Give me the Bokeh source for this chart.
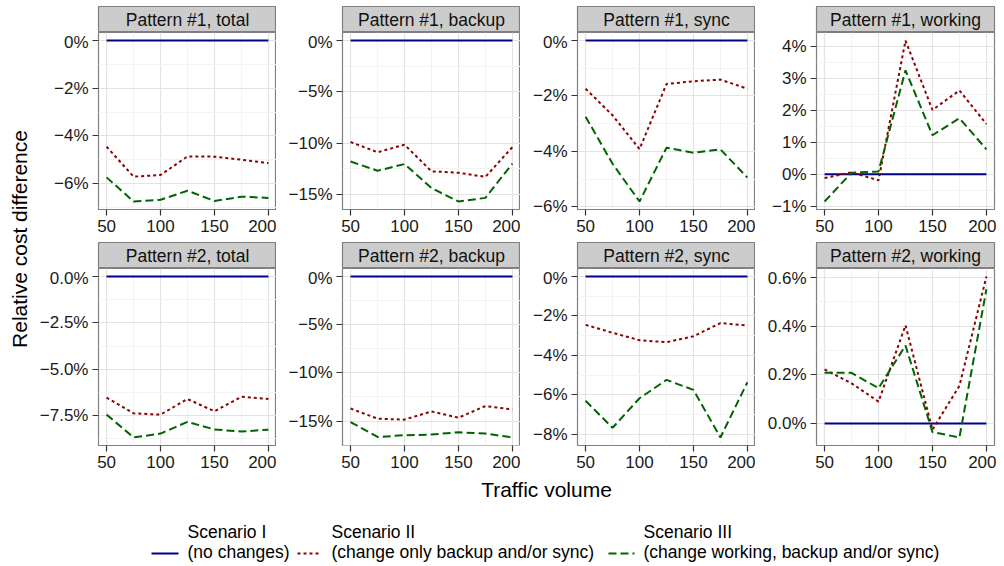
import math
from bokeh.plotting import figure
from bokeh.layouts import gridplot, row, column
from bokeh.models import Range1d, FixedTicker
from bokeh.core.properties import value
from bokeh.embed import file_html
from bokeh.resources import INLINE

# ---------------- data ----------------
traffic = [50, 75, 100, 125, 150, 175, 200]
x_ticks = [50, 100, 150, 200]
x_tick_labels = ["50", "100", "150", "200"]

facet_titles = ["Pattern #1, total", "Pattern #1, backup", "Pattern #1, sync", "Pattern #1, working",
                "Pattern #2, total", "Pattern #2, backup", "Pattern #2, sync", "Pattern #2, working"]

# Scenario I (no changes) is zero everywhere
scen1 = [0, 0, 0, 0, 0, 0, 0]

p1_total_s2 = [-4.45, -5.71, -5.64, -4.86, -4.87, -5.00, -5.14]
p1_total_s3 = [-5.74, -6.75, -6.68, -6.30, -6.73, -6.55, -6.60]
p1_backup_s2 = [-9.9, -10.9, -10.16, -12.76, -12.9, -13.3, -10.4]
p1_backup_s3 = [-11.8, -12.7, -12.05, -14.4, -15.7, -15.35, -12.0]
p1_sync_s2 = [-1.74, -2.70, -3.92, -1.57, -1.47, -1.41, -1.74]
p1_sync_s3 = [-2.75, -4.45, -5.81, -3.87, -4.05, -3.93, -4.95]
p1_working_s2 = [-0.12, 0.06, -0.19, 4.18, 2.01, 2.62, 1.57]
p1_working_s3 = [-0.85, 0.05, 0.09, 3.25, 1.22, 1.75, 0.78]
p2_total_s2 = [-6.52, -7.37, -7.44, -6.60, -7.26, -6.48, -6.60]
p2_total_s3 = [-7.44, -8.67, -8.46, -7.83, -8.24, -8.35, -8.25]
p2_backup_s2 = [-13.7, -14.75, -14.85, -14.0, -14.65, -13.44, -13.8]
p2_backup_s3 = [-15.1, -16.65, -16.47, -16.4, -16.16, -16.3, -16.7]
p2_sync_s2 = [-2.45, -2.85, -3.23, -3.33, -3.03, -2.36, -2.48]
p2_sync_s3 = [-6.30, -7.67, -6.17, -5.24, -5.75, -8.16, -5.36]
p2_working_s2 = [0.222, 0.165, 0.090, 0.403, -0.025, 0.155, 0.603]
p2_working_s3 = [0.208, 0.208, 0.145, 0.320, -0.035, -0.057, 0.551]

scen2 = [p1_total_s2, p1_backup_s2, p1_sync_s2, p1_working_s2,
         p2_total_s2, p2_backup_s2, p2_sync_s2, p2_working_s2]
scen3 = [p1_total_s3, p1_backup_s3, p1_sync_s3, p1_working_s3,
         p2_total_s3, p2_backup_s3, p2_sync_s3, p2_working_s3]

y_ticks = [[0, -2, -4, -6], [0, -5, -10, -15], [0, -2, -4, -6], [-1, 0, 1, 2, 3, 4],
           [0, -2.5, -5, -7.5], [0, -5, -10, -15], [0, -2, -4, -6, -8], [0, 0.2, 0.4, 0.6]]
y_tick_labels = [["0%", "\u22122%", "\u22124%", "\u22126%"],
                 ["0%", "\u22125%", "\u221210%", "\u221215%"],
                 ["0%", "\u22122%", "\u22124%", "\u22126%"],
                 ["\u22121%", "0%", "1%", "2%", "3%", "4%"],
                 ["0.0%", "\u22122.5%", "\u22125.0%", "\u22127.5%"],
                 ["0%", "\u22125%", "\u221210%", "\u221215%"],
                 ["0%", "\u22122%", "\u22124%", "\u22126%", "\u22128%"],
                 ["0.0%", "0.2%", "0.4%", "0.6%"]]

legend_line1 = ["Scenario I", "Scenario II", "Scenario III"]
legend_line2 = ["(no changes)", "(change only backup and/or sync)", "(change working, backup and/or sync)"]

x_title = "Traffic volume"
y_title = "Relative cost difference"

# ---------------- style ----------------
FONT = "Liberation Sans"
COLORS = ["#00008b", "#8b0000", "#006400"]
DASHES = ["solid", "3 3", "8 4"]
LW = 2
YLAB_W = 36
LEFT = [62, 66, 57, 61]
RIGHT = [0, 0, 0, 2]
FW, FH = 178, 177
STRIP_H = 26
TOP = 6
AX_B = 33
TICK_FS = "17px"


def minors(ticks):
    t = sorted(ticks)
    step = t[1] - t[0]
    return [t[0] - step / 2] + [(a + b) / 2 for a, b in zip(t[:-1], t[1:])] + [t[-1] + step / 2]


def style_axis(ax):
    ax.axis_line_color = None
    ax.major_tick_line_color = "#333333"
    ax.major_tick_line_width = 1.2
    ax.major_tick_out = 6
    ax.major_tick_in = 0
    ax.minor_tick_line_color = None
    ax.major_label_text_font = FONT
    ax.major_label_text_font_size = TICK_FS
    ax.major_label_text_color = "#1a1a1a"
    ax.major_label_standoff = 4


def make_strip(col, title, top):
    s = figure(frame_width=FW, frame_height=STRIP_H, x_range=Range1d(0, 1), y_range=Range1d(0, 1),
               x_axis_type=None, y_axis_type=None, output_backend="svg", toolbar_location=None,
               min_border=0, min_border_left=LEFT[col], min_border_right=RIGHT[col], min_border_top=top)
    s.background_fill_color = "#cccccc"
    s.border_fill_color = "white"
    s.outline_line_color = "#7f7f7f"
    s.outline_line_width = 1.2
    s.text(x=[0.5], y=[0.47], text=[title], text_align="center", text_baseline="middle",
           text_font=value(FONT), text_font_size="17.5px", text_color="#111111")
    return s


def make_panel(col, i):
    allv = scen1 + scen2[i] + scen3[i]
    lo, hi = min(allv), max(allv)
    pad = 0.05 * (hi - lo)
    xpad = 0.05 * (max(traffic) - min(traffic))
    p = figure(frame_width=FW, frame_height=FH,
               x_range=Range1d(min(traffic) - xpad, max(traffic) + xpad),
               y_range=Range1d(lo - pad, hi + pad),
               output_backend="svg", toolbar_location=None,
               min_border=0, min_border_left=LEFT[col], min_border_right=RIGHT[col],
               min_border_bottom=AX_B, min_border_top=0)
    p.background_fill_color = "white"
    p.border_fill_color = "white"
    p.outline_line_color = "#7f7f7f"
    p.outline_line_width = 1.2
    p.xaxis.ticker = FixedTicker(ticks=x_ticks, minor_ticks=minors(x_ticks))
    p.xaxis.major_label_overrides = dict(zip(x_ticks, x_tick_labels))
    p.yaxis.ticker = FixedTicker(ticks=y_ticks[i], minor_ticks=minors(y_ticks[i]))
    p.yaxis.major_label_overrides = dict(zip(y_ticks[i], y_tick_labels[i]))
    style_axis(p.xaxis[0])
    style_axis(p.yaxis[0])
    for g in (p.xgrid[0], p.ygrid[0]):
        g.grid_line_color = "#e3e3e3"
        g.grid_line_width = 1.2
        g.minor_grid_line_color = "#f3f3f3"
        g.minor_grid_line_width = 1
    for ys, c, d in zip([scen1, scen2[i], scen3[i]], COLORS, DASHES):
        p.line(traffic, ys, line_color=c, line_width=LW, line_dash=d)
    return p


rows = []
for r in range(2):
    rows.append([make_strip(c, facet_titles[r * 4 + c], TOP if r == 0 else 0) for c in range(4)])
    rows.append([make_panel(c, r * 4 + c) for c in range(4)])
grid = gridplot(rows, toolbar_location=None)

GRID_H = TOP + 2 * (STRIP_H + FH + AX_B)
TOTAL_W = YLAB_W + sum(LEFT) + 4 * FW + sum(RIGHT)
panels_mid = TOP + STRIP_H + (2 * FH + AX_B + STRIP_H) / 2

ylab = figure(width=YLAB_W, height=GRID_H, x_range=Range1d(0, YLAB_W), y_range=Range1d(0, GRID_H),
              x_axis_type=None, y_axis_type=None, output_backend="svg", toolbar_location=None,
              min_border=0)
ylab.outline_line_color = None
ylab.text(x=[19], y=[GRID_H - panels_mid], text=[y_title], angle=math.pi / 2,
          text_align="center", text_baseline="middle", text_font=value(FONT), text_font_size="21px",
          text_color="black")

BOT_H = 86
bottom = figure(width=TOTAL_W, height=BOT_H, x_range=Range1d(0, TOTAL_W), y_range=Range1d(0, BOT_H),
                x_axis_type=None, y_axis_type=None, output_backend="svg", toolbar_location=None,
                min_border=0)
bottom.outline_line_color = None
bottom.text(x=[546], y=[BOT_H - 11], text=[x_title], text_align="center", text_baseline="middle",
            text_font=value(FONT), text_font_size="21px", text_color="black")

key_x0 = [151, 297, 608]
key_x1 = [178, 321, 634]
text_x = [187, 331, 643]
for k in range(3):
    bottom.line([key_x0[k], key_x1[k]], [11, 11], line_color=COLORS[k], line_width=LW, line_dash=DASHES[k])
bottom.text(x=text_x, y=[33] * 3, text=legend_line1, text_align="left", text_baseline="middle",
            text_font=value(FONT), text_font_size="17.5px", text_color="black")
bottom.text(x=text_x, y=[13] * 3, text=legend_line2, text_align="left", text_baseline="middle",
            text_font=value(FONT), text_font_size="17.5px", text_color="black")

layout = column(row(ylab, grid), bottom)

open("out.html", "w").write(file_html(layout, INLINE))
